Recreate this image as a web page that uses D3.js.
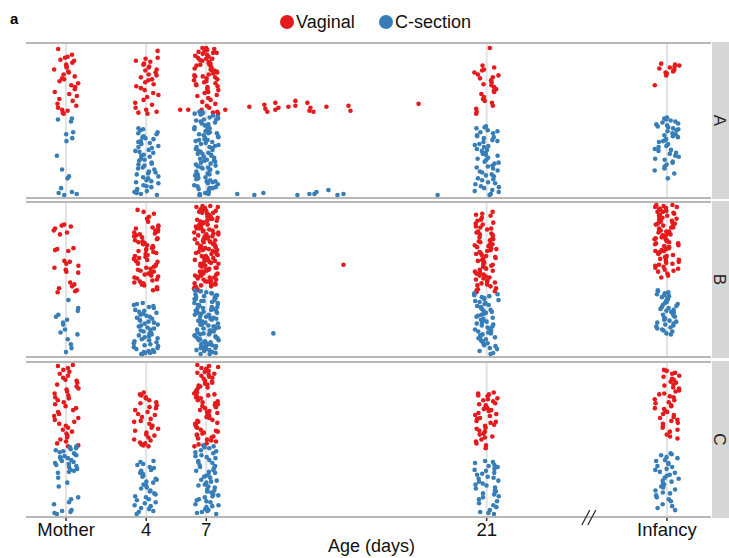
<!DOCTYPE html>
<html lang="en">
<head>
<meta charset="UTF-8">
<title>Age (days) by birth mode</title>
<script src="https://d3js.org/d3.v7.min.js"></script>
<style>
  body { margin: 0; background: #fff; font-family: "Liberation Sans", Arial, sans-serif; }
</style>
</head>
<body>
<svg id="chart"></svg>
<script>
// ---- data (y values are unitless positions within each panel, 0 = bottom) ----
const panels = ["A", "B", "C"];
const groups = ["Vaginal", "C-section"];
const timeLabels = ["Mother", "4", "7", "21", "Infancy"];
const timeDays = [0, 4, 7, 21, 30];

const vaginalA = [
  [149,143,141,140,138,137,135,133,131,130,128,126,125,123,121,119,118,116,114,112,110,108,105,103,101,98,96,93,91,89,87,86,84,83],
  [147,140,139,137,136,134,133,131,130,128,127,125,123,122,120,118,117,115,113,111,109,107,104,102,100,97,94,92,89,87,85,84,83],
  [150,150,149,148,147,146,145,145,144,143,142,141,140,139,139,138,137,136,135,134,133,133,132,131,130,129,128,127,127,126,125,124,123,122,121,121,120,119,118,117,116,115,114,113,112,111,110,108,107,105,104,102,101,99,97,95,93,91,89,87,85,84,83],
  [150,132,130,128,127,125,123,122,120,119,117,115,113,112,110,108,106,105,103,100,98,96,94,91,88,85,83],
  [134,133,132,131,130,129,128,127,126,125,124,122,112]
];
const csectionA = [
  [78,77,75,64,62,58,55,40,26,19,17,7,3,2,1,0],
  [68,67,66,64,63,62,60,59,58,57,55,54,53,52,50,49,48,46,45,44,43,41,40,39,37,36,35,33,32,31,30,28,27,26,24,23,22,21,19,18,17,15,14,13,12,10,9,8,6,5,4,3,2,1,0],
  [85,84,83,83,82,81,80,79,78,77,77,76,75,74,73,72,71,70,70,69,68,67,66,65,64,63,63,62,61,60,59,58,57,56,56,55,54,53,52,51,50,49,49,48,47,46,45,44,43,42,42,41,40,39,38,37,36,35,35,34,33,32,31,30,29,28,28,27,26,25,24,23,22,21,21,20,19,18,17,16,15,14,14,13,12,11,10,9,8,7,7,6,5,4,3,2,1,1,0,0],
  [70,69,68,66,65,64,63,61,60,59,58,56,55,54,52,51,50,49,47,46,45,43,42,41,40,38,37,36,34,33,32,30,29,28,27,25,24,23,21,20,19,17,16,15,13,12,11,9,8,7,5,4,3,1,0],
  [79,78,77,76,75,74,73,72,71,70,69,68,67,66,65,63,62,61,60,59,57,56,55,54,52,51,50,49,47,46,45,43,42,40,39,37,36,34,33,31,29,27,25,22,17]
];
// samples taken between the regular time points: [age in days, value]
const vaginalOffA = [[5.7,87],[6.1,87],[7.95,87],[9.15,90],[9.9,92],[9.95,88],[10.05,85],[10.45,94],[10.45,87],[10.6,89],[11.1,90],[11.45,96],[11.45,91],[12.05,94],[12.2,89],[12.15,86],[12.35,85],[13.0,90],[14.1,91],[14.2,86],[17.6,93]];
const csectionOffA = [[8.55,1],[9.4,0],[9.85,2],[11.55,0],[12.15,1],[12.4,1],[12.5,3],[13.1,5],[13.55,0],[13.85,1],[18.55,0]];

const vaginalB = [
  [132,131,130,128,126,124,122,108,107,106,105,95,94,92,90,88,86,84,83,73,71,69,67,65,64,63],
  [147,145,143,140,138,135,131,130,129,128,127,126,125,124,123,122,121,120,119,118,117,116,115,114,113,112,111,110,109,108,107,106,105,104,103,102,101,100,99,98,97,96,95,94,93,92,91,90,89,88,87,86,85,84,83,82,81,80,79,78,77,76,75,74,73,72,71,70,68,66,65],
  [151,151,150,150,149,148,148,147,146,146,145,144,144,143,142,142,141,140,140,139,138,138,137,136,136,135,134,134,133,132,132,131,130,130,129,128,128,127,126,126,125,124,124,123,122,122,121,120,120,119,118,118,117,116,116,115,114,114,113,112,112,111,110,110,109,108,108,107,106,106,105,104,104,103,102,102,101,100,100,99,98,98,97,96,96,95,94,94,93,92,92,91,90,90,89,88,88,87,86,86,85,84,84,83,82,82,81,80,80,79,78,78,77,76,76,75,74,74,73,72,72,71,70,70,69,68,68,67,66,65],
  [145,143,142,141,139,137,136,134,133,132,130,129,128,127,125,124,123,122,121,119,118,117,116,115,114,113,112,111,110,109,108,107,106,105,104,103,102,101,100,99,98,97,96,95,94,93,92,91,90,89,88,87,86,85,84,83,82,81,80,79,78,77,76,75,74,73,72,71,70,69,67,66,65,64,63],
  [152,152,151,150,150,149,148,148,147,146,145,145,144,143,142,141,141,140,139,138,137,137,136,135,134,133,133,132,131,130,129,129,128,127,126,125,125,124,123,122,121,121,120,119,118,117,117,116,115,114,113,113,112,111,110,109,109,108,107,106,105,105,104,103,102,101,100,99,98,97,96,95,94,93,92,91,90,89,88,87,86,85,84,82,80,78]
];
const csectionB = [
  [55,47,44,40,38,35,32,30,25,22,20,15,10,6,2],
  [52,51,50,49,48,47,45,44,43,42,41,40,39,38,37,36,35,34,33,32,31,30,29,28,27,26,25,24,23,22,21,20,19,18,17,16,15,14,13,12,11,10,9,8,7,6,5,4,3,2,2,1,1,0,0],
  [65,64,64,63,62,62,61,60,60,59,58,58,57,56,56,55,54,54,53,52,52,51,50,50,49,48,48,47,46,46,45,44,44,43,42,42,41,40,40,39,38,38,37,36,36,35,34,34,33,32,32,31,30,30,29,28,28,27,26,26,25,24,24,23,22,22,21,20,20,19,18,18,17,16,16,15,14,14,13,12,12,11,10,10,9,8,8,7,6,6,5,4,4,3,2,2,1,0,0],
  [62,61,60,59,58,57,56,55,54,53,52,51,50,49,48,47,46,45,44,43,42,41,40,39,38,37,36,35,34,33,32,31,30,29,28,27,26,25,24,23,22,21,20,19,18,17,16,15,14,13,12,11,10,9,8,6,5,3,1,0],
  [65,64,63,62,61,60,59,58,57,56,55,54,53,52,51,50,49,48,47,46,45,44,43,42,41,40,39,38,37,36,35,34,33,32,31,30,29,28,27,26,25,24,23,21,20]
];
const vaginalOffB = [[13.85,91]];
const csectionOffB = [[10.35,21]];

const vaginalC = [
  [152,151,149,147,145,143,141,139,137,136,134,132,130,128,127,125,123,121,119,118,116,114,112,110,108,106,104,102,100,98,96,94,92,90,88,86,84,82,80,78,76,74,72,70,69],
  [124,122,121,119,118,116,114,113,111,109,108,106,104,102,101,99,97,95,94,92,90,88,87,85,83,81,80,78,76,75,73,72,71,70,69],
  [152,151,150,149,148,146,145,144,143,142,141,140,139,138,136,135,134,133,132,131,130,129,128,126,125,124,123,122,121,120,119,118,116,115,114,113,112,111,110,109,108,106,105,104,103,102,101,100,99,98,96,95,94,93,92,91,90,89,88,86,85,84,83,82,81,80,79,78,77,76,75,74,72,71,69],
  [124,123,122,121,120,118,117,116,115,113,112,111,110,108,107,106,105,103,102,101,100,98,97,95,94,93,91,90,88,87,85,84,82,81,79,78,76,74,72,70,67],
  [147,146,144,143,141,140,138,137,135,134,132,131,129,128,126,125,123,122,120,119,117,116,114,113,111,110,108,107,105,104,102,101,99,98,96,95,93,92,90,88,86,84,81,79,77]
];
const csectionC = [
  [69,68,67,66,65,64,63,62,61,60,59,58,57,56,55,54,53,52,51,50,49,48,46,45,44,43,42,37,32,28,17,15,12,10,4,3,2,1,0],
  [54,53,51,50,48,47,45,44,42,41,39,38,36,35,33,32,30,29,27,26,24,23,21,20,18,17,15,14,12,11,9,8,6,5,3,2,0],
  [70,69,68,67,65,64,63,62,60,59,58,57,55,54,53,52,50,49,48,47,45,44,43,42,40,39,38,37,35,34,33,32,30,29,28,27,25,24,23,22,20,19,18,17,15,14,13,12,10,9,8,7,5,4,3,2,1,0],
  [54,53,52,50,49,48,46,45,44,42,41,40,38,37,36,34,33,31,30,29,27,26,24,23,21,20,18,17,15,13,11,9,7,4,2,1,0],
  [62,61,60,58,57,55,54,52,51,49,48,46,45,43,42,40,39,37,36,34,33,31,30,28,27,25,24,22,21,19,17,15,13,10,8,6,4]
];
const vaginalOffC = [];
const csectionOffC = [];

const byPanel = [
  [vaginalA, csectionA, vaginalOffA, csectionOffA],
  [vaginalB, csectionB, vaginalOffB, csectionOffB],
  [vaginalC, csectionC, vaginalOffC, csectionOffC]
];

// ---- layout ----
const width = 729, height = 558;
const left = 26, right = 711, stripW = 18;
const panelTops = [43, 202, 362], panelH = 155;
const colors = ["#E41A1C", "#377EB8"];

const svg = d3.select("#chart").attr("width", width).attr("height", height);

const x = d3.scaleLinear().domain([-2, 32.2]).range([left, right]);
const y = d3.scaleLinear().domain([0, 152]).range([panelH - 3, 3]);

// deterministic jitter, spread points sideways around their time point
function jit(seed) {
  const s = Math.sin(seed * 12.9898 + 78.233) * 43758.5453;
  return s - Math.floor(s);
}
const jitterW = 0.62;

panels.forEach((p, pi) => {
  const g = svg.append("g").attr("transform", `translate(0,${panelTops[pi]})`);

  // vertical reference lines at each sampled age
  g.selectAll("line.ref").data(timeDays).join("line")
    .attr("class", "ref")
    .attr("x1", d => x(d)).attr("x2", d => x(d))
    .attr("y1", 0).attr("y2", panelH)
    .attr("stroke", "#e2e2e2").attr("stroke-width", 2);

  // top/bottom border
  [0, panelH].forEach(yy => g.append("line")
    .attr("x1", left).attr("x2", right).attr("y1", yy).attr("y2", yy)
    .attr("stroke", "#b8b8b8").attr("stroke-width", 2));

  // strip
  g.append("rect").attr("x", right + 1).attr("y", -1).attr("width", stripW).attr("height", panelH + 2)
    .attr("fill", "#d6d6d6");
  g.append("text")
    .attr("transform", `translate(${right + 1 + stripW / 2 - 1},${panelH / 2}) rotate(90)`)
    .attr("text-anchor", "middle").attr("dy", "0.35em")
    .attr("font-size", 17).attr("fill", "#222").text(p);

  const [vag, cs, vagOff, csOff] = byPanel[pi];
  const pts = [];
  [vag, cs].forEach((series, gi) => {
    series.forEach((vals, ti) => {
      vals.forEach((v, i) => {
        const dx = (jit(pi * 10000 + gi * 5000 + ti * 700 + i) - 0.5) * 2 * jitterW;
        pts.push({ day: timeDays[ti] + dx, v, gi });
      });
    });
  });
  [vagOff, csOff].forEach((series, gi) => series.forEach(([d, v]) => pts.push({ day: d, v, gi })));

  g.selectAll("circle").data(pts).join("circle")
    .attr("cx", d => x(d.day))
    .attr("cy", d => y(d.v))
    .attr("r", 2.3)
    .attr("fill", d => colors[d.gi]);
});

// x axis ticks and labels
const axisY = panelTops[2] + panelH;
svg.selectAll("line.tick").data(timeDays).join("line")
  .attr("class", "tick")
  .attr("x1", d => x(d)).attr("x2", d => x(d))
  .attr("y1", axisY + 1).attr("y2", axisY + 4)
  .attr("stroke", "#333").attr("stroke-width", 1.5);
svg.selectAll("text.tick").data(timeDays).join("text")
  .attr("class", "tick")
  .attr("x", d => x(d)).attr("y", axisY + 19)
  .attr("text-anchor", "middle").attr("font-size", 18.5).attr("fill", "#111")
  .text((d, i) => timeLabels[i]);

svg.append("text").attr("x", (left + right) / 2 + 3).attr("y", axisY + 35)
  .attr("text-anchor", "middle").attr("font-size", 18).attr("fill", "#111")
  .text("Age (days)");

// axis break mark between 21 and Infancy
[0, 6].forEach(off => svg.append("line")
  .attr("x1", x(26) - 5 + off).attr("y1", axisY + 8)
  .attr("x2", x(26) + 3 + off).attr("y2", axisY - 7)
  .attr("stroke", "#222").attr("stroke-width", 1.2));

// legend
const legend = svg.append("g");
const legendX = [287, 386];
groups.forEach((name, i) => {
  legend.append("circle").attr("cx", legendX[i]).attr("cy", 22).attr("r", 7).attr("fill", colors[i]);
  legend.append("text").attr("x", legendX[i] + 9).attr("y", 28)
    .attr("font-size", 18).attr("fill", "#111").text(name);
});

svg.append("text").attr("x", 10).attr("y", 24)
  .attr("font-size", 15).attr("font-weight", "bold").text("a");
</script>
</body>
</html>
